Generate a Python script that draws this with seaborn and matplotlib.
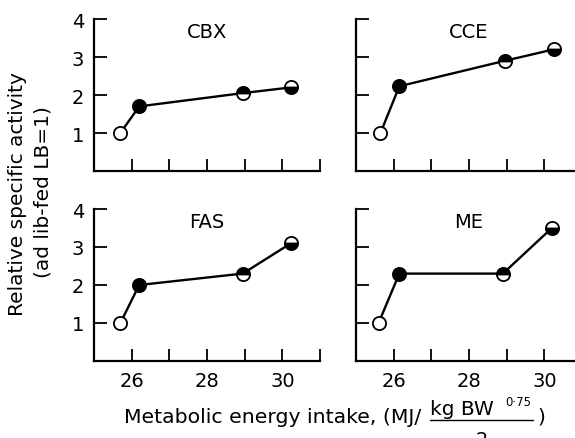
import matplotlib
matplotlib.use('Agg')
import matplotlib.pyplot as plt
import seaborn as sns

# Date: aportul de energie (x) si activitatea relativa (y)
panels = ['CBX', 'CCE', 'FAS', 'ME']
cbx_x = [25.7, 26.2, 28.95, 30.23]
cbx_y = [1.0, 1.7, 2.05, 2.2]
cce_x = [25.65, 26.15, 28.95, 30.25]
cce_y = [1.0, 2.23, 2.9, 3.2]
fas_x = [25.7, 26.2, 28.95, 30.23]
fas_y = [1.0, 2.0, 2.3, 3.1]
me_x = [25.6, 26.15, 28.9, 30.2]
me_y = [1.0, 2.3, 2.3, 3.5]
# stilul markerului pentru fiecare punct: gol, plin, jumatate sus, jumatate jos
point_styles = ['open', 'filled', 'top', 'bottom']

x_ticks = [26, 27, 28, 29, 30, 31]
x_ticklabels = ['26', '', '28', '', '30', '']
y_ticks = [1, 2, 3, 4]

sns.set_style('ticks')
plt.rcParams['font.family'] = ['DejaVu Sans']
plt.rcParams['text.color'] = 'black'

fig = plt.figure(figsize=(5.75, 4.39), dpi=100)
W, H = 575.0, 439.0

# pozitiile axelor in pixeli: (stanga, sus)
boxes = [(94, 20), (356, 20), (94, 210), (356, 210)]
ax_w, ax_h = 226, 152
data = [(cbx_x, cbx_y), (cce_x, cce_y), (fas_x, fas_y), (me_x, me_y)]


def marker_kw(style):
    if style == 'open':
        return dict(fillstyle='full', markerfacecolor='white')
    if style == 'filled':
        return dict(fillstyle='full', markerfacecolor='black')
    if style == 'top':
        return dict(fillstyle='top', markerfacecolor='black', markerfacecoloralt='white')
    return dict(fillstyle='bottom', markerfacecolor='black', markerfacecoloralt='white')


for i, (name, (xs, ys), (left, top)) in enumerate(zip(panels, data, boxes)):
    ax = fig.add_axes([left / W, 1 - (top + ax_h) / H, ax_w / W, ax_h / H])
    sns.lineplot(x=xs, y=ys, ax=ax, color='black', linewidth=1.7, estimator=None, sort=False)
    for xv, yv, st in zip(xs, ys, point_styles):
        ax.plot([xv], [yv], marker='o', markersize=9.5, markeredgecolor='black',
                markeredgewidth=1.3, linestyle='none', clip_on=False, zorder=5, **marker_kw(st))
    ax.set_xlim(25, 31)
    ax.set_ylim(0, 4)
    ax.set_xticks(x_ticks)
    ax.set_yticks(y_ticks)
    if i >= 2:
        ax.set_xticklabels(x_ticklabels)
    else:
        ax.set_xticklabels([''] * len(x_ticks))
    if i % 2 == 0:
        ax.set_yticklabels([str(t) for t in y_ticks])
    else:
        ax.set_yticklabels([''] * len(y_ticks))
    ax.tick_params(direction='in', length=9, width=1.3, labelsize=14, pad=7, colors='black')
    sns.despine(ax=ax)
    for s in ['left', 'bottom']:
        ax.spines[s].set_linewidth(1.6)
        ax.spines[s].set_color('black')
    ax.set_facecolor('none')
    ax.text(0.5, 0.92, name, transform=ax.transAxes, ha='center', va='center',
            fontsize=14, color='black')

# eticheta axei y (doua randuri)
fig.text(18 / W, 1 - 194 / H, 'Relative specific activity', rotation=90,
         ha='center', va='center', fontsize=14.5)
fig.text(43 / W, 1 - 192 / H, '(ad lib-fed LB=1)', rotation=90,
         ha='center', va='center', fontsize=14.5)

# eticheta axei x, cu fractie
fig.text(124 / W, 1 - 423 / H, 'Metabolic energy intake, (MJ/', ha='left',
         va='baseline', fontsize=14.7)
fig.text(430 / W, 1 - 415 / H, 'kg BW', ha='left', va='baseline', fontsize=14.5)
fig.text(505 / W, 1 - 406 / H, '0·75', ha='left', va='baseline', fontsize=8.5)
fig.add_artist(plt.Line2D([430 / W, 533 / W], [1 - 421 / H, 1 - 421 / H],
                          color='black', linewidth=1.0))
fig.text(482 / W, 1 - 431 / H, '2', ha='center', va='top', fontsize=14)
fig.text(537 / W, 1 - 423 / H, ')', ha='left', va='baseline', fontsize=14.7)

fig.savefig('out.png', dpi=100)
